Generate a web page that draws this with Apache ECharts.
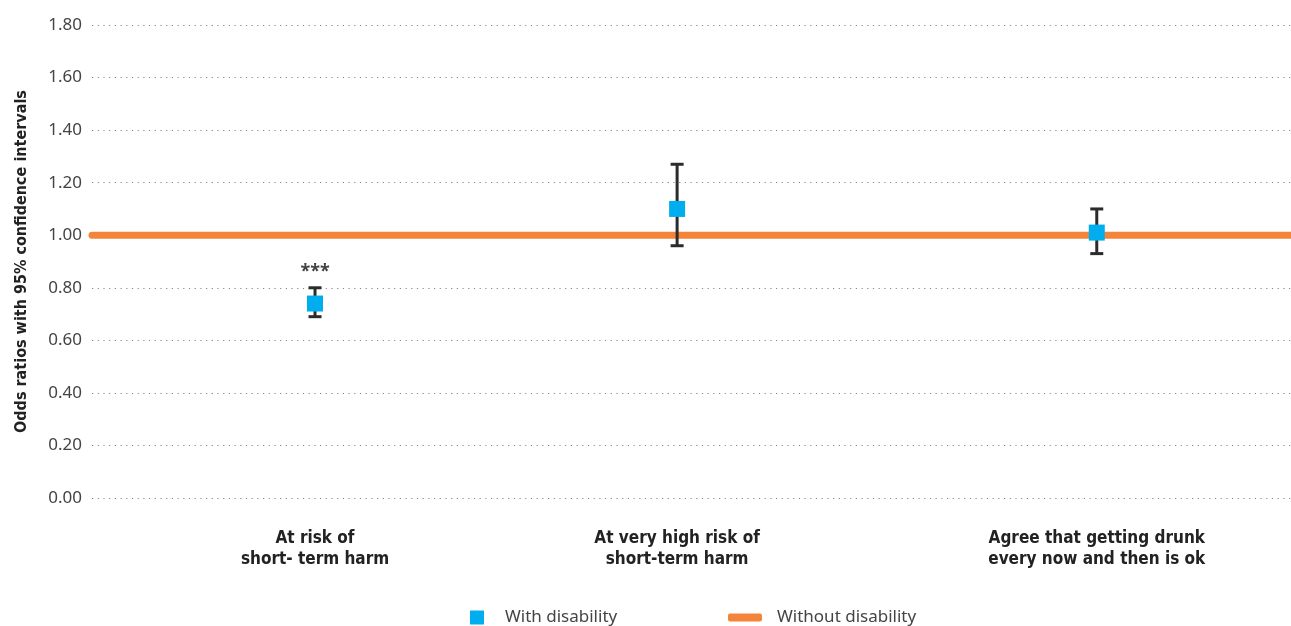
<!DOCTYPE html>
<html><head><meta charset="utf-8">
<script src="https://cdn.jsdelivr.net/npm/echarts@6/dist/echarts.min.js"></script>
<style>html,body{margin:0;padding:0;background:#fff}#c{width:1291px;height:626px}</style>
</head><body><div id="c"></div>
<script>
const categories = ['At risk of\nshort- term harm', 'At very high risk of\nshort-term harm', 'Agree that getting drunk\nevery now and then is ok'];
const xPositions = [18.6, 48.8, 83.8];
const oddsRatio = [0.74, 1.10, 1.01];
const ciLow = [0.69, 0.96, 0.93];
const ciHigh = [0.80, 1.27, 1.10];
const significance = ['***', '', ''];
const reference = 1.00;

const chart = echarts.init(document.getElementById('c'));
const condensed = '"Liberation Sans Narrow", "DejaVu Sans Condensed", "Noto Sans", sans-serif';
const legendText = {fontFamily: '"Noto Sans", sans-serif', fontSize: 17, color: '#444'};
chart.setOption({
  animation: false,
  grid: {left: 92, right: 0, top: 25, bottom: 128, outerBoundsMode: 'none', containLabel: false},
  legend: [
    {
      top: 604, left: 465, itemGap: 0,
      textStyle: Object.assign({padding: [0, 0, 0, 16]}, legendText),
      data: [{name: 'With disability', icon: 'rect', itemStyle: {color: '#00AEEF'}}],
      itemWidth: 14, itemHeight: 14
    },
    {
      top: 604, left: 723, itemGap: 0,
      textStyle: Object.assign({padding: [0, 0, 0, 10]}, legendText),
      data: [{name: 'Without disability', icon: 'roundRect', itemStyle: {color: '#F5843B'}}],
      itemWidth: 34, itemHeight: 8
    }
  ],
  xAxis: {
    type: 'value', min: 0, max: 100,
    axisLine: {show: false}, axisTick: {show: false}, splitLine: {show: false},
    axisLabel: {
      customValues: xPositions,
      formatter: v => categories[xPositions.indexOf(v)] || '',
      fontFamily: condensed, fontWeight: 'bold', fontSize: 17, color: '#222',
      lineHeight: 21, margin: 30, align: 'center'
    }
  },
  yAxis: {
    type: 'value', min: 0, max: 1.8, interval: 0.2,
    name: 'Odds ratios with 95% confidence intervals',
    nameLocation: 'middle', nameGap: 62, nameRotate: 90,
    nameTextStyle: {fontFamily: condensed, fontWeight: 'bold', fontSize: 16, color: '#222'},
    axisLine: {show: false}, axisTick: {show: false},
    axisLabel: {formatter: v => v.toFixed(2), fontFamily: '"Noto Sans", sans-serif', fontSize: 17, color: '#444', margin: 10},
    splitLine: {lineStyle: {color: '#888', width: 1.2, type: [1.2, 4.5]}}
  },
  series: [
    {
      name: 'Without disability', type: 'line', symbol: 'none',
      data: [[0, reference], [100, reference]],
      lineStyle: {color: '#F5843B', width: 7, cap: 'round'},
      itemStyle: {color: '#F5843B'}, z: 2
    },
    {
      name: 'errorbars', type: 'custom', z: 3,
      data: xPositions.map((x, i) => [x, ciLow[i], ciHigh[i]]),
      renderItem: (params, api) => {
        const lo = api.coord([api.value(0), api.value(1)]);
        const hi = api.coord([api.value(0), api.value(2)]);
        const hw = 6.5;
        const style = {stroke: '#2b2b2b', lineWidth: 3};
        return {type: 'group', children: [
          {type: 'line', shape: {x1: lo[0], y1: lo[1], x2: hi[0], y2: hi[1]}, style},
          {type: 'line', shape: {x1: lo[0]-hw, y1: lo[1], x2: lo[0]+hw, y2: lo[1]}, style},
          {type: 'line', shape: {x1: hi[0]-hw, y1: hi[1], x2: hi[0]+hw, y2: hi[1]}, style}
        ]};
      }
    },
    {
      name: 'With disability', type: 'scatter', symbol: 'rect', symbolSize: 16, z: 4,
      itemStyle: {color: '#00AEEF', opacity: 1},
      data: xPositions.map((x, i) => [x, oddsRatio[i]])
    },
    {
      name: 'sig', type: 'scatter', symbolSize: 0, z: 5, silent: true,
      data: xPositions.map((x, i) => [x, ciHigh[i], significance[i]]),
      label: {show: true, position: 'top', distance: 7, formatter: p => p.value[2],
        fontFamily: '"Noto Sans", sans-serif', fontWeight: 'bold', fontSize: 18, color: '#111'}
    }
  ]
});
</script></body></html>
